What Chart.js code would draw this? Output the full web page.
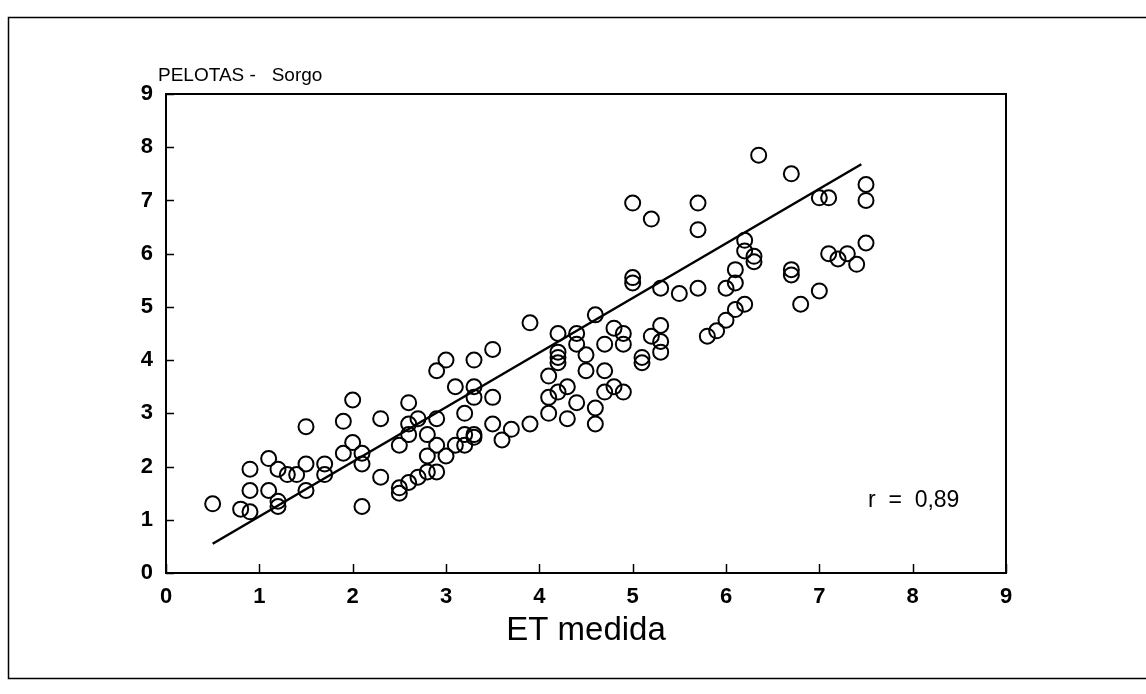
<!DOCTYPE html>
<html>
<head>
<meta charset="utf-8">
<script src="https://cdn.jsdelivr.net/npm/chart.js@4.4.1/dist/chart.umd.min.js"></script>
<style>
html,body{margin:0;padding:0;background:#fff;}
#wrap{position:relative;width:1146px;height:694px;}
</style>
</head>
<body>
<div id="wrap"><canvas id="c" width="1146" height="694"></canvas></div>
<script>
// ET medida (x) and ET estimada (y)
const etMedida = [
  0.5, 0.8, 0.9, 0.9, 0.9, 1.1, 1.1, 1.2, 1.2, 1.2,
  1.3, 1.4, 1.5, 1.5, 1.5, 1.7, 1.7, 1.9, 1.9, 2.0,
  2.0, 2.1, 2.1, 2.1, 2.3, 2.3, 2.5, 2.5, 2.5, 2.6,
  2.6, 2.6, 2.6, 2.7, 2.7, 2.8, 2.8, 2.8, 2.9, 2.9,
  2.9, 2.9, 3.0, 3.0, 3.1, 3.1, 3.2, 3.2, 3.2, 3.3,
  3.3, 3.3, 3.3, 3.3, 3.5, 3.5, 3.5, 3.6, 3.7, 3.9,
  3.9, 4.1, 4.1, 4.1, 4.2, 4.2, 4.2, 4.2, 4.2, 4.3,
  4.3, 4.4, 4.4, 4.4, 4.5, 4.5, 4.6, 4.6, 4.6, 4.7,
  4.7, 4.7, 4.8, 4.8, 4.9, 4.9, 4.9, 5.0, 5.0, 5.0,
  5.1, 5.1, 5.2, 5.2, 5.3, 5.3, 5.3, 5.3, 5.5, 5.7,
  5.7, 5.7, 5.8, 5.9, 6.0, 6.0, 6.1, 6.1, 6.1, 6.2,
  6.2, 6.2, 6.3, 6.3, 6.35, 6.7, 6.7, 6.7, 6.8, 7.0,
  7.1, 7.0, 7.1, 7.2, 7.3, 7.4, 7.5, 7.5, 7.5
];
const etEstimada = [
  1.3, 1.2, 1.15, 1.95, 1.55, 2.15, 1.55, 1.95, 1.35, 1.25,
  1.85, 1.85, 2.75, 2.05, 1.55, 2.05, 1.85, 2.85, 2.25, 3.25,
  2.45, 2.25, 2.05, 1.25, 2.9, 1.8, 2.4, 1.6, 1.5, 3.2,
  2.8, 2.6, 1.7, 2.9, 1.8, 2.6, 2.2, 1.9, 3.8, 2.9,
  2.4, 1.9, 4.0, 2.2, 3.5, 2.4, 3.0, 2.6, 2.4, 4.0,
  3.5, 3.3, 2.6, 2.55, 4.2, 3.3, 2.8, 2.5, 2.7, 4.7,
  2.8, 3.7, 3.3, 3.0, 4.5, 4.15, 4.05, 3.95, 3.4, 3.5,
  2.9, 4.5, 4.3, 3.2, 4.1, 3.8, 4.85, 3.1, 2.8, 4.3,
  3.8, 3.4, 4.6, 3.5, 4.5, 4.3, 3.4, 6.95, 5.55, 5.45,
  4.05, 3.95, 6.65, 4.45, 5.35, 4.65, 4.35, 4.15, 5.25, 6.95,
  6.45, 5.35, 4.45, 4.55, 4.75, 5.35, 5.7, 5.45, 4.95, 6.25,
  6.05, 5.05, 5.95, 5.85, 7.85, 7.5, 5.7, 5.6, 5.05, 7.05,
  7.05, 5.3, 6.0, 5.9, 6.0, 5.8, 7.3, 7.0, 6.2
];
// regression line end points
const fitX = [0.5, 7.45];
const fitY = [0.55, 7.68];
// axis ticks
const xTickValues = [0, 1, 2, 3, 4, 5, 6, 7, 8, 9];
const yTickValues = [0, 1, 2, 3, 4, 5, 6, 7, 8, 9];
const chartTitle = 'PELOTAS -   Sorgo';
const xAxisTitle = 'ET medida';
const rText = 'r  =  0,89';

const points = etMedida.map((x, i) => ({x: x, y: etEstimada[i]}));
const fitLine = fitX.map((x, i) => ({x: x, y: fitY[i]}));

const decor = {
  id: 'decor',
  beforeDraw(chart) {
    const ctx = chart.ctx;
    ctx.save();
    ctx.fillStyle = '#fff';
    ctx.fillRect(0, 0, chart.width, chart.height);
    ctx.restore();
  },
  afterDraw(chart) {
    const ctx = chart.ctx;
    const a = chart.chartArea;
    const xs = chart.scales.x, ys = chart.scales.y;
    ctx.save();
    ctx.strokeStyle = '#000';
    // plot frame
    ctx.lineWidth = 2;
    ctx.strokeRect(a.left, a.top, a.right - a.left, a.bottom - a.top);
    // inward tick marks
    ctx.lineWidth = 1.5;
    ctx.beginPath();
    xTickValues.forEach(v => {
      const px = Math.round(xs.getPixelForValue(v)) + 0.5;
      ctx.moveTo(px, a.bottom);
      ctx.lineTo(px, a.bottom - 9);
    });
    yTickValues.forEach(v => {
      const py = Math.round(ys.getPixelForValue(v)) + 0.5;
      ctx.moveTo(a.left, py);
      ctx.lineTo(a.left + 8, py);
    });
    ctx.stroke();
    // outer page frame
    ctx.lineWidth = 1.5;
    ctx.beginPath();
    ctx.moveTo(1146, 17.5);
    ctx.lineTo(8.5, 17.5);
    ctx.lineTo(8.5, 678.5);
    ctx.lineTo(1146, 678.5);
    ctx.stroke();
    // texts
    ctx.fillStyle = '#000';
    ctx.textBaseline = 'alphabetic';
    ctx.textAlign = 'left';
    ctx.font = '19px "Liberation Sans", Arial, sans-serif';
    ctx.fillText(chartTitle, 158, 81);
    ctx.font = '23px "Liberation Sans Narrow", "Liberation Sans", Arial, sans-serif';
    ctx.fillText(rText, 868, 507);
    ctx.restore();
  }
};

new Chart(document.getElementById('c'), {
  type: 'scatter',
  data: {
    datasets: [
      {
        label: 'ET',
        data: points,
        pointStyle: 'circle',
        pointRadius: 7.5,
        pointHoverRadius: 7.5,
        borderWidth: 2,
        borderColor: '#000',
        backgroundColor: 'rgba(0,0,0,0)'
      },
      {
        type: 'line',
        label: 'Regressão',
        data: fitLine,
        showLine: true,
        pointRadius: 0,
        borderWidth: 2.5,
        borderColor: '#000',
        fill: false
      }
    ]
  },
  options: {
    responsive: false,
    animation: false,
    devicePixelRatio: 1,
    layout: {padding: {left: 0, top: 94, right: 140, bottom: 43}},
    plugins: {
      legend: {display: false},
      tooltip: {enabled: false},
      title: {display: false}
    },
    scales: {
      x: {
        type: 'linear',
        min: 0, max: 9,
        afterFit(s) { s.height = 78; },
        afterBuildTicks(s) { s.ticks = xTickValues.map(v => ({value: v})); },
        grid: {display: false, drawTicks: false},
        border: {display: false},
        ticks: {
          color: '#000',
          padding: 11,
          font: {family: '"Liberation Sans", Arial, sans-serif', size: 22, weight: 'bold'}
        },
        title: {
          display: true,
          text: xAxisTitle,
          color: '#000',
          padding: {top: 0, bottom: 0},
          font: {family: '"Liberation Sans", Arial, sans-serif', size: 33}
        }
      },
      y: {
        type: 'linear',
        min: 0, max: 9,
        afterFit(s) { s.width = 166; },
        afterBuildTicks(s) { s.ticks = yTickValues.map(v => ({value: v})); },
        grid: {display: false, drawTicks: false},
        border: {display: false},
        ticks: {
          color: '#000',
          padding: 13,
          font: {family: '"Liberation Sans", Arial, sans-serif', size: 22, weight: 'bold'}
        }
      }
    }
  },
  plugins: [decor]
});
</script>
</body>
</html>
